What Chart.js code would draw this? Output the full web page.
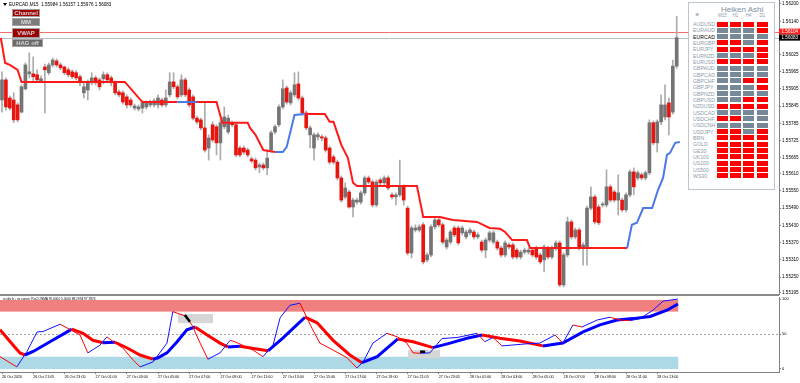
<!DOCTYPE html>
<html>
<head>
<meta charset="utf-8">
<title>EURCAD,M15</title>
<script src="https://cdn.jsdelivr.net/npm/chart.js@4.4.1/dist/chart.umd.min.js"></script>
<style>
  html, body { margin: 0; padding: 0; background: #fff; }
  body { position: relative; width: 800px; height: 383px; overflow: hidden; font-family: "Liberation Sans", Arial, sans-serif; }
  canvas { position: absolute; left: 0; }
  #priceChart { top: 0; }
  #rsiChart { top: 296px; }
  #sep { position: absolute; left: 0; top: 294px; width: 779px; height: 2px; background: #8a8a8a; }
  .abs { position: absolute; white-space: nowrap; }
  #tri { left: 3px; top: 3px; width: 0; height: 0; border-left: 2px solid transparent; border-right: 2px solid transparent; border-top: 3px solid #000; }
  #title { left: 9px; top: 2px; font-size: 4.6px; line-height: 5px; color: #000; }
  .btn { position: absolute; left: 12px; width: 28px; height: 8px; font-size: 6px; font-weight: bold; line-height: 7px; text-align: center; color: #d8d8d8; box-sizing: border-box; border: 1px solid #a0a0a0; }
  #rsiTitle { left: 3px; top: 297px; font-size: 3.2px; line-height: 4px; color: #000; }
  #ha { position: absolute; left: 688px; top: 2px; width: 87px; height: 188px; border: 1px solid #bcc6d0; background: #fff; box-sizing: border-box; }
  #haTitle { left: 721px; top: 6px; font-size: 8px; line-height: 8px; color: #7d8ea0; }
  .haHead { font-size: 4.5px; line-height: 5px; color: #8a98a8; text-align: center; width: 12px; }
  .haSym { left: 693px; font-size: 5.2px; line-height: 6px; color: #8d9bab; }
  .haCell { position: absolute; width: 11px; height: 5px; }
</style>
</head>
<body>
<canvas id="priceChart" width="800" height="300"></canvas>
<canvas id="rsiChart" width="800" height="87"></canvas>
<div id="sep"></div>

<div id="tri" class="abs"></div>
<div id="title" class="abs">EURCAD,M15&nbsp; 1.55984 1.56157 1.55976 1.56083</div>
<div class="btn" style="top:9px;background:#a00000;">Channel</div>
<div class="btn" style="top:18px;background:#7c7c7c;">MM</div>
<div class="btn" style="top:28px;height:10px;line-height:9px;background:#990000;">VWAP</div>
<div class="btn" style="top:39px;width:31px;background:#6a6a6a;">HAG off</div>
<div id="rsiTitle" class="abs">rsi div b - rsi zones: Rsi2 LWMA 95.0000 5.0000 88.2994 97.7874</div>

<div id="ha"></div>
<div id="haTitle" class="abs">Heiken Ashi</div>

<script>
// EURCAD M15 bars
const opens = [1.55866,1.55936,1.55873,1.55866,1.55849,1.55824,1.55905,1.55957,1.55957,1.55954,
  1.55933,1.55981,1.55961,1.55988,1.56002,1.55988,1.55981,1.55971,1.55964,1.55961,
  1.55947,1.55891,1.55901,1.55926,1.55943,1.55936,1.55940,1.55954,1.55943,1.55926,
  1.55894,1.55891,1.55877,1.55866,1.55838,1.55835,1.55838,1.55842,1.55849,1.55849,
  1.55849,1.55866,1.55849,1.55884,1.55929,1.55912,1.55884,1.55936,1.55901,1.55877,
  1.55803,1.55797,1.55769,1.55699,1.55780,1.55773,1.55717,1.55773,1.55755,1.55787,
  1.55780,1.55699,1.55699,1.55692,1.55661,1.55657,1.55633,1.55640,1.55630,1.55692,
  1.55755,1.55780,1.55842,1.55908,1.55856,1.55884,1.55922,1.55873,1.55821,1.55745,
  1.55699,1.55738,1.55738,1.55734,1.55699,1.55668,1.55650,1.55595,1.55529,1.55546,
  1.55494,1.55511,1.55511,1.55543,1.55595,1.55581,1.55501,1.55588,1.55578,1.55595,
  1.55536,1.55529,1.55536,1.55564,1.55490,1.55334,1.55414,1.55414,1.55432,1.55310,
  1.55327,1.55425,1.55449,1.55432,1.55355,1.55372,1.55421,1.55421,1.55404,1.55390,
  1.55404,1.55407,1.55390,1.55372,1.55344,1.55379,1.55372,1.55372,1.55351,1.55327,
  1.55362,1.55362,1.55344,1.55320,1.55337,1.55337,1.55344,1.55351,1.55327,1.55310,
  1.55351,1.55320,1.55351,1.55369,1.55223,1.55327,1.55442,1.55390,1.55414,1.55351,
  1.55355,1.55490,1.55529,1.55494,1.55501,1.55501,1.55564,1.55546,1.55518,1.55518,
  1.55484,1.55536,1.55616,1.55595,1.55606,1.55595,1.55613,1.55787,1.55717,1.55790,
  1.55807,1.55856,1.55824,1.55984];
const highs = [1.55964,1.55943,1.55880,1.55891,1.55856,1.55919,1.55995,1.56030,1.56016,1.55971,
  1.55950,1.55991,1.55995,1.56012,1.56009,1.55995,1.55984,1.55978,1.55971,1.55968,
  1.55954,1.55926,1.55936,1.55961,1.55950,1.55943,1.55964,1.55961,1.55950,1.55933,
  1.55901,1.55898,1.55884,1.55873,1.55852,1.55849,1.55863,1.55863,1.55866,1.55870,
  1.55884,1.55873,1.55901,1.55961,1.55961,1.55919,1.55954,1.55943,1.55908,1.55884,
  1.55810,1.55803,1.55859,1.55745,1.55790,1.55780,1.55797,1.55842,1.55814,1.55793,
  1.55787,1.55706,1.55706,1.55699,1.55668,1.55664,1.55647,1.55647,1.55692,1.55759,
  1.55780,1.55849,1.55936,1.55915,1.55898,1.55961,1.55964,1.55880,1.55828,1.55776,
  1.55752,1.55752,1.55745,1.55741,1.55706,1.55675,1.55657,1.55602,1.55578,1.55553,
  1.55525,1.55525,1.55550,1.55602,1.55602,1.55588,1.55588,1.55595,1.55602,1.55602,
  1.55543,1.55543,1.55657,1.55571,1.55497,1.55428,1.55432,1.55432,1.55439,1.55334,
  1.55432,1.55456,1.55456,1.55439,1.55386,1.55414,1.55428,1.55428,1.55428,1.55414,
  1.55421,1.55414,1.55404,1.55379,1.55386,1.55411,1.55411,1.55379,1.55358,1.55376,
  1.55369,1.55369,1.55351,1.55344,1.55351,1.55351,1.55351,1.55358,1.55334,1.55362,
  1.55358,1.55358,1.55376,1.55376,1.55334,1.55459,1.55449,1.55421,1.55421,1.55369,
  1.55497,1.55564,1.55536,1.55501,1.55511,1.55623,1.55571,1.55553,1.55606,1.55525,
  1.55543,1.55623,1.55630,1.55619,1.55613,1.55619,1.55797,1.55793,1.55797,1.55884,
  1.55919,1.55873,1.56005,1.56157];
const lows = [1.55824,1.55831,1.55831,1.55787,1.55790,1.55821,1.55901,1.55943,1.55929,1.55929,
  1.55926,1.55821,1.55954,1.55981,1.55981,1.55971,1.55954,1.55947,1.55940,1.55936,
  1.55915,1.55873,1.55866,1.55919,1.55919,1.55901,1.55922,1.55929,1.55915,1.55884,
  1.55877,1.55852,1.55838,1.55842,1.55831,1.55828,1.55821,1.55835,1.55842,1.55842,
  1.55838,1.55842,1.55842,1.55877,1.55905,1.55870,1.55877,1.55877,1.55842,1.55797,
  1.55783,1.55762,1.55685,1.55657,1.55720,1.55675,1.55657,1.55766,1.55748,1.55773,
  1.55668,1.55668,1.55678,1.55668,1.55647,1.55623,1.55613,1.55623,1.55606,1.55685,
  1.55748,1.55773,1.55835,1.55852,1.55849,1.55877,1.55866,1.55814,1.55762,1.55699,
  1.55657,1.55727,1.55724,1.55685,1.55643,1.55643,1.55588,1.55511,1.55522,1.55490,
  1.55459,1.55504,1.55504,1.55536,1.55574,1.55494,1.55494,1.55571,1.55571,1.55553,
  1.55522,1.55501,1.55529,1.55501,1.55327,1.55317,1.55407,1.55407,1.55296,1.55303,
  1.55320,1.55418,1.55425,1.55365,1.55348,1.55365,1.55390,1.55362,1.55397,1.55383,
  1.55397,1.55383,1.55383,1.55337,1.55317,1.55372,1.55365,1.55344,1.55320,1.55320,
  1.55348,1.55313,1.55313,1.55313,1.55330,1.55330,1.55320,1.55313,1.55296,1.55268,
  1.55313,1.55313,1.55344,1.55216,1.55216,1.55320,1.55383,1.55383,1.55344,1.55292,
  1.55292,1.55484,1.55435,1.55432,1.55494,1.55494,1.55511,1.55511,1.55466,1.55477,
  1.55477,1.55529,1.55536,1.55588,1.55588,1.55588,1.55606,1.55710,1.55685,1.55780,
  1.55797,1.55745,1.55817,1.55976];
const closes = [1.55936,1.55842,1.55838,1.55797,1.55797,1.55912,1.55988,1.55964,1.55947,1.55936,
  1.55940,1.55971,1.55988,1.56005,1.55988,1.55978,1.55961,1.55954,1.55947,1.55943,
  1.55926,1.55912,1.55926,1.55943,1.55926,1.55912,1.55954,1.55936,1.55926,1.55891,
  1.55884,1.55859,1.55849,1.55849,1.55845,1.55842,1.55856,1.55856,1.55859,1.55863,
  1.55873,1.55849,1.55873,1.55929,1.55912,1.55877,1.55936,1.55884,1.55849,1.55803,
  1.55790,1.55769,1.55692,1.55734,1.55727,1.55717,1.55787,1.55807,1.55803,1.55780,
  1.55675,1.55675,1.55685,1.55675,1.55654,1.55630,1.55640,1.55630,1.55664,1.55752,
  1.55773,1.55842,1.55905,1.55859,1.55891,1.55919,1.55873,1.55821,1.55769,1.55769,
  1.55745,1.55745,1.55734,1.55692,1.55650,1.55650,1.55595,1.55518,1.55560,1.55494,
  1.55518,1.55518,1.55543,1.55595,1.55581,1.55501,1.55581,1.55578,1.55595,1.55560,
  1.55529,1.55536,1.55564,1.55518,1.55334,1.55421,1.55421,1.55425,1.55303,1.55327,
  1.55425,1.55449,1.55432,1.55372,1.55379,1.55407,1.55397,1.55369,1.55421,1.55407,
  1.55414,1.55390,1.55397,1.55344,1.55379,1.55404,1.55404,1.55351,1.55327,1.55369,
  1.55355,1.55320,1.55320,1.55337,1.55344,1.55344,1.55327,1.55320,1.55303,1.55355,
  1.55320,1.55351,1.55369,1.55223,1.55327,1.55442,1.55390,1.55414,1.55351,1.55362,
  1.55490,1.55529,1.55442,1.55439,1.55504,1.55564,1.55518,1.55518,1.55543,1.55484,
  1.55536,1.55616,1.55564,1.55613,1.55595,1.55613,1.55787,1.55717,1.55790,1.55849,
  1.55849,1.55807,1.55984,1.56083];

// Channel indicator (bar position, price, 1 = up phase)
const channelX = [-0.3,0.8,2,4,5,31.5,36,45,50,55,56.5,63,63.6,65,67,70,72,73,75,77.7,
  82.8,84,85,87,88.7,90,91,106.4,108,112.3,115.6,121.8,125,127.7,129,130.8,134.6,135.4,
  160.3,161.5,162.8,164.4,166.7,168.2,169.5,170.5,171.3,172.6,173.8];
const channelY = [1.56082,1.55995,1.55988,1.55971,1.55929,1.55929,1.55859,1.55859,1.55859,1.55859,
  1.55787,1.55787,1.55769,1.55745,1.55692,1.55685,1.55685,1.55703,1.55814,1.55817,
  1.55817,1.55790,1.55790,1.55710,1.55664,1.55578,1.55567,1.55567,1.55459,1.55459,
  1.55449,1.55442,1.55421,1.55418,1.55407,1.55379,1.55379,1.55351,1.55351,1.55432,
  1.55439,1.55490,1.55490,1.55553,1.55595,1.55675,1.55682,1.55717,1.55720];
const channelUp = [0,0,0,0,0,0,0,1,0,0,0,0,0,0,0,1,1,1,1,0,
  0,0,0,0,0,0,0,0,0,0,0,0,0,0,0,0,0,0,1,1,1,1,1,1,1,1,1,1,0];

const askLevel = 1.56104;
const bidLevel = 1.56083;
const priceTicks = [1.56200,1.56140,1.56080,1.56025,1.55965,1.55905,1.55845,1.55785,1.55725,
  1.55665,1.55610,1.55550,1.55490,1.55430,1.55370,1.55310,1.55250,1.55195];

// time axis
const timeIdx = [0,8,16,24,32,40,48,56,64,72,80,88,96,104,112,120,128,136,144,152,160,168];
const timeLabels = ['26 Oct 2020','26 Oct 21:05','26 Oct 23:05','27 Oct 01:00','27 Oct 03:00',
  '27 Oct 05:00','27 Oct 07:00','27 Oct 09:00','27 Oct 11:00','27 Oct 13:00','27 Oct 15:00',
  '27 Oct 17:00','27 Oct 19:00','27 Oct 21:05','27 Oct 23:05','28 Oct 01:00','28 Oct 03:00',
  '28 Oct 05:00','28 Oct 07:00','28 Oct 09:00','28 Oct 11:00','28 Oct 13:00'];

// rsi zones pane
const rsiX = [-0.5,3.8,6.4,9,10.5,14.9,16.9,20,22,25.1,26.9,28.5,31,33.6,35.4,38.7,42.3,43.8,46.9,48.7,
  50.8,52.8,55.9,58.5,59.7,64.4,66.9,69.5,71.3,73.8,76.4,79.5,81.5,84.9,88.5,91,92.6,95.1,98.7,101.3,
  103.8,105.4,107.2,109.7,112.8,116.7,121.8,123.8,125.9,128.2,130.3,134.6,137.9,141.8,143.8,146.4,148.7,152.6,155.9,158.5,
  161,163.6,166.9,169.5,173.3];
const rsiY = [17.6,3,25,53,53.5,64,58,48.6,23,34,46,39,30,13,3,10,37,82,76,63,
  37,14,23,41,39,27,17.6,34,73,91,94,58,37,27,16,1.5,10,37,51,46,
  37,23,22.5,23,43.5,45,51,39,45,33,34,36,37,48.6,37,63,60,70,74,70,
  69,72,84,97,100];
const lwmaX = [-0.5,2.1,4.6,5.9,8,12.3,16.7,17.9,20.8,23.3,25.9,29,32.1,35.4,38.7,40,42.3,44.9,47.4,49.5,
  52.6,55.9,57.9,61,64.9,68.2,72,75.6,77.7,80.8,84.9,89.2,92.3,96.2,101.5,105.4,110.5,114.9,119.2,123.1,
  127.7,132.8,138.7,143.8,149,153.3,157.7,161.8,166.2,170.5,173.3];
const lwmaY = [56,39,23,20,25,39,53,57,51,41,37.5,38.2,30,20,14,16,23,39,56,60,
  48.6,37,31.5,32.5,29,26,44,63,74,66,41,20,9,17.6,43,39,30.5,37,44,48.6,
  44,40,33,37,53,63,70,72,75,84,93];
const zoneHigh = [82, 98.6];
const zoneLow = [0, 17.5];
const rsiTicks = [100, 50, 0];
const divBoxes = [[45.1, 54.1, 65.5, 78.6], [104.1, 112.3, 15.3, 27]];
const divMarks = [[46.9, 77, 48.2, 67.6], [107.2, 24.7, 108.5, 24.7]];

// Heiken Ashi dashboard
const haCols = ['M15', 'H1', 'H4', 'D1'];
const haSymbols = ['AUDUSD','EURAUD','EURCAD','EURGBP','EURJPY','EURNZD','EURUSD','GBPAUD','GBPCAD',
  'GBPCHF','GBPJPY','GBPNZD','GBPUSD','NZDUSD','USDCAD','USDCHF','USDCNH','USDJPY','BRN','GOLD',
  'GE30','UK100','US100','US500','WS30'];
const haStates = ['RRRR','GGGR','GGGG','RRGR','RRRR','GGGR','RRRR','GGGG','GGGG','GGRR','GGGR','GGGG',
  'GGRR','RRRR','GGGG','RRGG','GGGG','RRGR','RRRR','RRRR','RRRR','RRRR','RRRR','RRRR','RRRR'];

const xMin = -0.513, xMax = 199.23;
const lastBar = opens.length - 1;
const FONT = 'Liberation Sans';

// ---- dashboard markup
const haColX = [717, 730, 743, 757];
haCols.forEach((c, k) => {
  const d = document.createElement('div');
  d.className = 'abs haHead';
  d.textContent = c;
  d.style.left = (haColX[k] - 0.5) + 'px';
  d.style.top = '13px';
  document.body.appendChild(d);
});
const gear = document.createElement('div');
gear.className = 'abs';
gear.style.cssText = 'left:695px;top:12px;font-size:5px;line-height:5px;color:#8a98a8;';
gear.textContent = '\u2295';
document.body.appendChild(gear);
haSymbols.forEach((s, r) => {
  const cy = 24 + r * 6.33;
  const n = document.createElement('div');
  n.className = 'abs haSym';
  n.textContent = s;
  n.style.top = (cy - 3) + 'px';
  if (s === 'EURCAD') n.style.color = '#000';
  document.body.appendChild(n);
  haStates[r].split('').forEach((st, k) => {
    const cell = document.createElement('div');
    cell.className = 'haCell';
    cell.style.left = haColX[k] + 'px';
    cell.style.top = (cy - 2.5) + 'px';
    cell.style.background = st === 'R' ? '#ff0000' : '#778899';
    document.body.appendChild(cell);
  });
});

// ---- price pane
const priceMarks = {
  id: 'priceMarks',
  beforeDatasetsDraw(chart) {
    const {ctx, chartArea: a, scales: {y}} = chart;
    ctx.save();
    ctx.lineWidth = 1;
    ctx.strokeStyle = '#f07070';
    let py = Math.round(y.getPixelForValue(askLevel)) + 0.5;
    ctx.beginPath(); ctx.moveTo(a.left, py); ctx.lineTo(a.right, py); ctx.stroke();
    ctx.strokeStyle = '#b8bec6';
    py = Math.round(y.getPixelForValue(bidLevel)) + 0.5;
    ctx.beginPath(); ctx.moveTo(a.left, py); ctx.lineTo(a.right, py); ctx.stroke();
    ctx.restore();
  },
  afterDraw(chart) {
    const {ctx, chartArea: a, scales: {y}} = chart;
    ctx.save();
    ctx.font = '4.6px "' + FONT + '"';
    ctx.textBaseline = 'middle';
    [[askLevel, '#ff1c1c'], [bidLevel, '#000']].forEach(([v, bg]) => {
      const py = y.getPixelForValue(v);
      ctx.fillStyle = bg;
      ctx.fillRect(a.right, py - 3, 800 - a.right, 6);
      ctx.fillStyle = '#fff';
      ctx.fillText(v.toFixed(5), a.right + 2.5, py + 0.3);
    });
    ctx.restore();
  }
};

new Chart(document.getElementById('priceChart'), {
  type: 'bar',
  data: {
    datasets: [
      {
        type: 'line',
        data: channelX.map((x, k) => ({x, y: channelY[k]})),
        borderColor: '#ff1a1a',
        borderWidth: 2,
        pointRadius: 0,
        tension: 0,
        segment: { borderColor: c => channelUp[c.p0DataIndex] ? '#4a78e8' : '#ff1a1a' },
        order: 0
      },
      {
        data: opens.map((o, i) => ({x: i, y: [o, closes[i]]})),
        grouped: false,
        barThickness: 3,
        minBarLength: 1,
        backgroundColor: c => closes[c.dataIndex] >= opens[c.dataIndex] ? '#747474' : '#e8140e',
        order: 1
      },
      {
        data: lows.map((l, i) => ({x: i, y: [l, highs[i]]})),
        grouped: false,
        barThickness: 1,
        backgroundColor: '#ababab',
        order: 2
      }
    ]
  },
  options: {
    responsive: false,
    animation: false,
    events: [],
    layout: { padding: { left: 0, right: 0, top: 0, bottom: 6 } },
    plugins: { legend: { display: false }, tooltip: { enabled: false } },
    scales: {
      x: { type: 'linear', min: xMin, max: xMax, offset: false, display: false },
      y: {
        position: 'right',
        min: 1.551913,
        max: 1.562139,
        afterBuildTicks: s => { s.ticks = priceTicks.map(v => ({value: v})); },
        afterFit: s => { s.width = 21; s.paddingTop = 0; s.paddingBottom = 0; },
        ticks: {
          autoSkip: false,
          padding: 1,
          color: '#000',
          font: { size: 4.6, family: FONT },
          callback: v => Number(v).toFixed(5)
        },
        grid: { drawOnChartArea: false, tickLength: 2, color: '#808080' },
        border: { display: true, color: '#808080' }
      }
    }
  },
  plugins: [priceMarks]
});

// ---- rsi pane
const rsiDecor = {
  id: 'rsiDecor',
  beforeDatasetsDraw(chart) {
    const {ctx, chartArea: a, scales: {x, y}} = chart;
    const xl = x.getPixelForValue(xMin), xr = x.getPixelForValue(lastBar + 0.4);
    ctx.save();
    ctx.fillStyle = '#f08080';
    ctx.fillRect(xl, y.getPixelForValue(zoneHigh[1]), xr - xl, y.getPixelForValue(zoneHigh[0]) - y.getPixelForValue(zoneHigh[1]));
    ctx.fillStyle = '#add8e6';
    ctx.fillRect(xl, y.getPixelForValue(zoneLow[1]), xr - xl, y.getPixelForValue(zoneLow[0]) - y.getPixelForValue(zoneLow[1]));
    ctx.strokeStyle = '#a0a0a0';
    ctx.lineWidth = 1;
    ctx.setLineDash([2, 2]);
    const ly = Math.round(y.getPixelForValue(50)) + 0.5;
    ctx.beginPath(); ctx.moveTo(a.left, ly); ctx.lineTo(a.right, ly); ctx.stroke();
    ctx.setLineDash([]);
    ctx.fillStyle = '#d6d6d6';
    divBoxes.forEach(([x0, x1, v0, v1]) => {
      const px0 = x.getPixelForValue(x0), px1 = x.getPixelForValue(x1);
      const py0 = y.getPixelForValue(v1), py1 = y.getPixelForValue(v0);
      ctx.fillRect(px0, py0, px1 - px0, py1 - py0);
    });
    ctx.restore();
  },
  afterDatasetsDraw(chart) {
    const {ctx, scales: {x, y}} = chart;
    ctx.save();
    ctx.strokeStyle = '#000';
    ctx.lineWidth = 2.5;
    divMarks.forEach(([x0, v0, x1, v1]) => {
      ctx.beginPath();
      ctx.moveTo(x.getPixelForValue(x0), y.getPixelForValue(v0));
      ctx.lineTo(x.getPixelForValue(x1), y.getPixelForValue(v1));
      ctx.stroke();
    });
    ctx.restore();
  }
};

const slopeColor = (up, down) => c => c.p1.parsed.y >= c.p0.parsed.y ? up : down;

new Chart(document.getElementById('rsiChart'), {
  type: 'line',
  data: {
    datasets: [
      {
        data: rsiX.map((x, k) => ({x, y: rsiY[k]})),
        borderColor: '#ff0000',
        borderWidth: 1,
        pointRadius: 0,
        segment: { borderColor: slopeColor('#1010ff', '#ff0000') },
        order: 0
      },
      {
        data: lwmaX.map((x, k) => ({x, y: lwmaY[k]})),
        borderColor: '#ff0000',
        borderWidth: 3,
        pointRadius: 0,
        segment: { borderColor: slopeColor('#0000ff', '#ff0000') },
        order: 1
      }
    ]
  },
  options: {
    responsive: false,
    animation: false,
    events: [],
    layout: { padding: { left: 0, right: 0, top: 1, bottom: 0 } },
    plugins: { legend: { display: false }, tooltip: { enabled: false } },
    scales: {
      x: {
        type: 'linear', min: xMin, max: xMax, offset: false,
        afterBuildTicks: s => { s.ticks = timeIdx.map(v => ({value: v})); },
        afterFit: s => { s.height = 11; s.paddingLeft = 0; s.paddingRight = 0; },
        ticks: {
          autoSkip: false, maxRotation: 0, minRotation: 0, align: 'start', padding: 1,
          color: '#000', font: { size: 3.7, family: FONT },
          callback: (v, i) => timeLabels[i]
        },
        grid: { drawOnChartArea: false, tickLength: 2, color: '#808080' },
        border: { display: true, color: '#808080' }
      },
      y: {
        position: 'right', min: -4.3, max: 102.9,
        afterBuildTicks: s => { s.ticks = rsiTicks.map(v => ({value: v})); },
        afterFit: s => { s.width = 21; s.paddingTop = 0; s.paddingBottom = 0; },
        ticks: { autoSkip: false, padding: 1, color: '#000', font: { size: 4, family: FONT } },
        grid: { drawOnChartArea: false, tickLength: 2, color: '#808080' },
        border: { display: true, color: '#808080' }
      }
    }
  },
  plugins: [rsiDecor]
});
</script>
</body>
</html>
